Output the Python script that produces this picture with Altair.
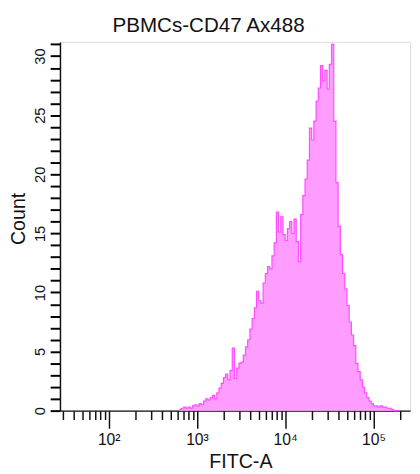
import altair as alt
import pandas as pd

# Histogram bin grid (log10 of FITC-A), and counts
LOG_START = 2.8
LOG_STEP = 0.025
counts = [
    0.1, 0.2, 0.3, 0.2, 0.3, 0.2, 0.4, 0.5, 0.4, 0.6,
    0.5, 0.8, 1.0, 0.9, 1.1, 1.3, 1.0, 1.5, 1.9, 2.3,
    2.8, 3.1, 2.6, 3.4, 5.3, 2.7, 3.6, 4.0, 4.1, 4.7,
    5.4, 6.0, 6.9, 7.8, 8.7, 10.1, 9.3, 9.1, 10.8, 11.6,
    12.2, 12.0, 13.1, 14.2, 16.8, 15.1, 16.4, 14.9, 14.4, 15.4,
    16.0, 15.0, 16.2, 14.3, 12.6, 16.6, 18.2, 19.6, 21.2, 23.9,
    22.9, 24.5, 26.2, 27.3, 29.2, 27.9, 28.8, 27.2, 29.3, 31.0,
    24.5, 19.3, 15.6, 13.2, 11.6, 10.3, 8.9, 7.5, 6.4, 5.5,
    4.0, 3.3, 2.6, 2.0, 1.5, 1.1, 0.8, 0.6, 0.4, 0.4,
    0.3, 0.4, 0.3, 0.3, 0.2, 0.2, 0.1, 0.0, 0.0, 0.0,
]

x_ticks = [30, 40, 50, 60, 70, 80, 90,
           100, 200, 300, 400, 500, 600, 700, 800, 900,
           1000, 2000, 3000, 4000, 5000, 6000, 7000, 8000, 9000,
           10000, 20000, 30000, 40000, 50000, 60000, 70000, 80000, 90000,
           100000, 200000]
y_ticks = list(range(0, 32))

edges = [10 ** (LOG_START + LOG_STEP * i) for i in range(len(counts) + 1)]
df = pd.DataFrame({
    "fitc": edges,
    "count": counts + [counts[-1]],
})

FONT = "Liberation Sans"

x_enc = alt.X(
    "fitc:Q",
    scale=alt.Scale(type="log", domain=[28, 260000], nice=False),
    axis=alt.Axis(
        title="FITC-A",
        values=x_ticks,
        labelExpr=("datum.value == 100 ? '10²' : datum.value == 1000 ? '10³' : "
                   "datum.value == 10000 ? '10⁴' : datum.value == 100000 ? '10⁵' : ''"),
        tickSize=18,
        tickDash={"condition": {"test": "datum.value == 100 || datum.value == 1000 || datum.value == 10000 || datum.value == 100000",
                                "value": [30, 0]}, "value": [9, 30]},
        tickColor="#111",
        tickWidth=1.5,
        domainColor="#111",
        domainWidth=1.5,
        labelFont=FONT,
        labelFontSize=16,
        labelColor="#111",
        labelPadding=4,
        labelFlush=False,
        labelOverlap=False,
        titleFont=FONT,
        titleFontSize=20,
        titleFontWeight="normal",
        titleColor="#111",
        titleX=184,
        titleY=58,
        titleAlign="center",
        titleBaseline="alphabetic",
        grid=False,
    ),
)

y_enc = alt.Y(
    "count:Q",
    stack=None,
    scale=alt.Scale(domain=[0, 31.2], nice=False),
    axis=alt.Axis(
        title="Count",
        values=y_ticks,
        labelExpr="datum.value % 5 === 0 ? datum.label : ''",
        ticks=True,
        tickSize=10,
        tickColor="black",
        tickWidth=2,
        tickOpacity=1,
        domainColor="#111",
        domainWidth=1.5,
        labelFont=FONT,
        labelFontSize=15,
        labelColor="#111",
        labelAngle=270,
        labelAlign="center",
        labelBaseline="bottom",
        labelPadding=3,
        labelFlush=False,
        labelOverlap=False,
        titleFont=FONT,
        titleFontSize=20,
        titleFontWeight="normal",
        titleColor="#111",
        titleAngle=270,
        titleX=-36,
        titleY=180,
        titleAlign="center",
        titleBaseline="alphabetic",
        grid=False,
    ),
)

chart = alt.Chart(df).mark_area(
    interpolate="step-after",
    color="#ff9cff",
    opacity=1,
    line={"color": "#ff4dff", "strokeWidth": 1.2},
).encode(x=x_enc, y=y_enc).properties(
    width=357,
    height=376,
    title=alt.TitleParams(
        "PBMCs-CD47 Ax488",
        font=FONT,
        fontSize=21,
        fontWeight="normal",
        color="#111",
        anchor="middle",
        dx=-27,
        offset=6,
    ),
    autosize=alt.AutoSizeParams(type="none"),
    padding={"left": 53, "top": 30, "right": 2, "bottom": 60},
).configure_view(
    stroke="#444", strokeWidth=1
).configure(background="white")

chart.save("out.html", embed_options={"renderer": "svg", "actions": False})
